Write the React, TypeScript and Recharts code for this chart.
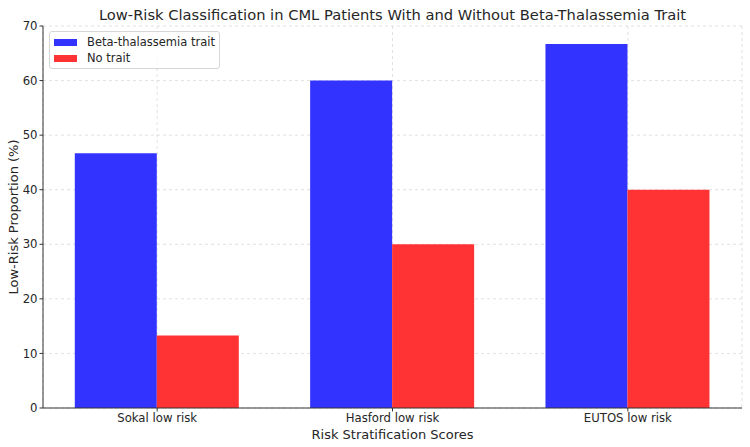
import { Bar, BarChart, CartesianGrid, XAxis, YAxis } from 'recharts';

const categories = ['Sokal low risk', 'Hasford low risk', 'EUTOS low risk'];
const traitValues = [46.7, 60.0, 66.7];
const noTraitValues = [13.3, 30.0, 40.0];
const yTicks = [0, 10, 20, 30, 40, 50, 60, 70];

const seriesNames = { trait: 'Beta-thalassemia trait', noTrait: 'No trait' };
const colors = { trait: '#3333FF', noTrait: '#FF3333' };

const data = categories.map((name, i) => ({
  name,
  trait: traitValues[i],
  noTrait: noTraitValues[i],
}));

const font = 'DejaVu Sans, sans-serif';
const textColor = '#262626';

function LegendBox() {
  const items = [
    { label: seriesNames.trait, color: colors.trait },
    { label: seriesNames.noTrait, color: colors.noTrait },
  ];
  return (
    <div
      style={{
        position: 'absolute',
        left: 49,
        top: 31,
        boxSizing: 'border-box',
        width: 171,
        height: 38,
        border: '1px solid #d6d6d6',
        borderRadius: 3,
        background: 'rgba(255,255,255,0.8)',
        padding: '2px 0 0 4px',
        fontFamily: font,
        fontSize: 11.5,
        color: textColor,
        whiteSpace: 'nowrap',
      }}
    >
      {items.map((item) => (
        <div key={item.label} style={{ display: 'flex', alignItems: 'center', height: 16 }}>
          <span style={{ width: 23, height: 7, background: item.color, marginRight: 10 }} />
          <span>{item.label}</span>
        </div>
      ))}
    </div>
  );
}

export default function App() {
  return (
    <div style={{ position: 'absolute', left: 0, top: 0, width: 750, height: 447, background: '#fff' }}>
      <div
        style={{
          position: 'absolute',
          top: 6,
          left: 43,
          width: 699,
          textAlign: 'center',
          fontFamily: font,
          fontSize: 14.7,
          color: textColor,
        }}
      >
        Low-Risk Classification in CML Patients With and Without Beta-Thalassemia Trait
      </div>
      <BarChart
        width={750}
        height={447}
        data={data}
        margin={{ top: 26, right: 8, left: 0, bottom: 0 }}
        barCategoryGap="15%"
        barGap={0}
      >
        <CartesianGrid stroke="#d9d9d9" strokeDasharray="3 3" strokeWidth={0.8} />
        <XAxis
          dataKey="name"
          height={39}
          padding={{ left: -3.5, right: -3.5 }}
          axisLine={{ stroke: '#333', strokeWidth: 1 }}
          tickLine={{ stroke: '#333' }}
          tickSize={3.5}
          tick={{ fill: textColor, fontSize: 11.7, fontFamily: font }}
          label={{
            value: 'Risk Stratification Scores',
            position: 'insideBottom',
            offset: 8,
            fill: textColor,
            fontSize: 13,
            fontFamily: font,
          }}
        />
        <YAxis
          width={43}
          domain={[0, 70]}
          ticks={yTicks}
          interval={0}
          axisLine={{ stroke: '#333', strokeWidth: 1 }}
          tickLine={{ stroke: '#333' }}
          tickSize={3.5}
          tick={{ fill: textColor, fontSize: 11.7, fontFamily: font }}
          label={{
            value: 'Low-Risk Proportion (%)',
            angle: -90,
            position: 'insideLeft',
            offset: 13,
            style: { textAnchor: 'middle' },
            fill: textColor,
            fontSize: 13,
            fontFamily: font,
          }}
        />
        <Bar dataKey="trait" name={seriesNames.trait} fill={colors.trait} isAnimationActive={false} />
        <Bar dataKey="noTrait" name={seriesNames.noTrait} fill={colors.noTrait} isAnimationActive={false} />
      </BarChart>
      <LegendBox />
    </div>
  );
}
